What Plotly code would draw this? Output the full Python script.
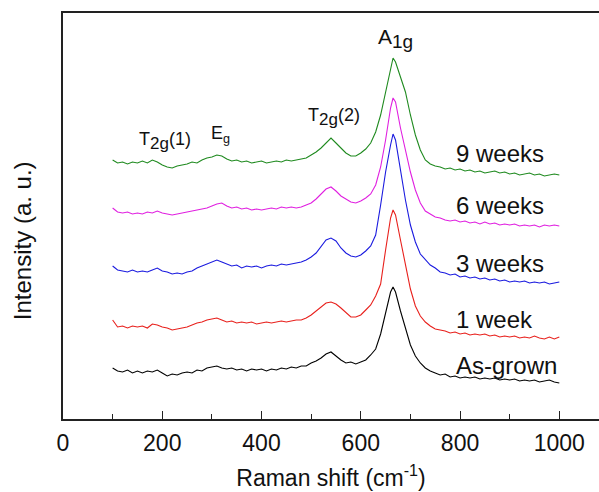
import numpy as np
import plotly.graph_objects as go

# Raman shift grid (cm^-1): 10 cm^-1 steps with an extra point at the A1g maximum
shift = np.concatenate([np.arange(100, 661, 10), [665], np.arange(670, 1001, 10)])

# Stacked Raman intensities (a.u., offset per sample)
as_grown = [51, 48, 47, 49, 46, 48, 46, 48, 47, 49, 46, 43, 45, 44, 46, 47, 46, 49, 48, 51,
            52, 53, 51, 50, 51, 49, 50, 48, 50, 49, 50, 48, 50, 49, 51, 50, 52, 51, 53, 53,
            56, 58, 61, 65, 67, 63, 59, 56, 57, 55, 57, 59, 64, 70, 85, 106, 127, 132,
            127, 108, 90, 74, 63, 56, 51, 48, 46, 44, 45, 42, 43, 41, 42, 41, 42, 40, 41,
            40, 41, 39, 40, 39, 40, 38, 39, 38, 39, 37, 38, 39, 37, 36]
week1 = [99, 92, 93, 91, 93, 92, 93, 91, 95, 94, 92, 91, 89, 90, 91, 92, 94, 96, 97, 99,
         100, 101, 99, 97, 98, 96, 97, 96, 97, 95, 96, 97, 96, 97, 98, 97, 98, 99, 99, 101,
         104, 108, 112, 116, 117, 115, 111, 106, 102, 102, 104, 109, 114, 123, 135, 169, 201, 209,
         204, 179, 154, 130, 113, 103, 97, 93, 90, 89, 88, 86, 87, 85, 86, 84, 85, 84, 85,
         83, 84, 82, 83, 82, 83, 81, 82, 81, 83, 81, 80, 82, 80, 82]
week3 = [153, 149, 148, 147, 149, 147, 148, 147, 149, 151, 148, 147, 145, 146, 145, 147, 148, 151, 153, 155,
         157, 159, 157, 155, 153, 154, 151, 153, 152, 153, 151, 153, 154, 153, 155, 154, 155, 156, 157, 159,
         162, 166, 173, 179, 181, 178, 171, 166, 163, 162, 164, 168, 173, 184, 214, 247, 274, 285,
         279, 249, 219, 194, 177, 165, 159, 154, 151, 147, 146, 144, 145, 142, 143, 141, 142, 140, 141,
         139, 140, 138, 139, 137, 138, 137, 138, 136, 137, 136, 137, 135, 136, 137]
week6 = [211, 207, 206, 207, 205, 206, 205, 207, 206, 208, 206, 205, 204, 205, 206, 207, 208, 209, 210, 211,
         213, 215, 216, 213, 211, 212, 210, 211, 209, 210, 209, 210, 211, 210, 212, 211, 212, 211, 212, 214,
         216, 220, 225, 230, 232, 228, 223, 220, 217, 216, 218, 221, 225, 234, 252, 279, 311, 321,
         317, 291, 269, 247, 229, 216, 208, 205, 202, 201, 199, 198, 199, 197, 198, 196, 197, 195, 197,
         195, 196, 194, 195, 194, 195, 193, 194, 193, 194, 192, 194, 193, 194, 193]
week9 = [259, 256, 257, 255, 257, 256, 258, 256, 259, 257, 254, 252, 251, 253, 254, 255, 257, 256, 259, 261,
         262, 264, 263, 260, 258, 259, 257, 258, 256, 257, 258, 256, 257, 258, 257, 259, 258, 259, 260, 261,
         264, 267, 271, 276, 281, 276, 271, 266, 263, 263, 266, 270, 276, 287, 304, 327, 352, 361,
         357, 341, 327, 304, 284, 269, 259, 255, 253, 252, 250, 251, 249, 250, 248, 249, 247, 248, 246,
         247, 248, 246, 247, 245, 246, 244, 245, 246, 244, 245, 243, 244, 245, 244]

series = [
    ("As-grown", as_grown, "#000000"),
    ("1 week", week1, "#e8201c"),
    ("3 weeks", week3, "#1a1adf"),
    ("6 weeks", week6, "#e020e0"),
    ("9 weeks", week9, "#1f8a1f"),
]

# Sample label positions (left edge in cm^-1, vertical centre in a.u.)
label_x = 788
label_y = [54, 100, 156, 214, 266]

# Raman mode labels
mode_text = [
    "A<sub><span style='font-size:19px'>1g</span></sub>",
    "T<sub><span style='font-size:17px'>2g</span></sub>(2)",
    "T<sub><span style='font-size:17px'>2g</span></sub>(1)",
    "E<sub>g</sub>",
]
mode_x = [669, 546, 206, 318]
mode_y = [381, 302, 278, 285]
mode_size = [21, 18, 18, 18]

FONT = "Arial, 'Liberation Sans', sans-serif"

fig = go.Figure()
for name, vals, color in series:
    fig.add_trace(go.Scatter(x=shift, y=vals, mode="lines", name=name,
                             line=dict(color=color, width=1.1), showlegend=False))

for (name, _, _), ly in zip(series, label_y):
    fig.add_annotation(x=label_x, y=ly, text=name, showarrow=False, xanchor="left",
                       yanchor="middle", font=dict(size=24, color="#111", family=FONT))

for t, mx, my, ms in zip(mode_text, mode_x, mode_y, mode_size):
    fig.add_annotation(x=mx, y=my, text=t, showarrow=False, xanchor="center",
                       yanchor="middle", font=dict(size=ms, color="#111", family=FONT))

fig.update_layout(
    width=599, height=492,
    margin=dict(l=63, r=0, t=13, b=73),
    paper_bgcolor="white", plot_bgcolor="white",
    font=dict(family=FONT, color="#111"),
    xaxis=dict(
        range=[0, 1080], tickmode="linear", tick0=0, dtick=200,
        ticks="inside", ticklen=8, tickwidth=1.3, tickcolor="#222",
        minor=dict(dtick=100, ticks="inside", ticklen=5, tickwidth=1.3, tickcolor="#222"),
        showline=True, linecolor="#222", linewidth=1.6, mirror=True,
        showgrid=False, zeroline=False,
        tickfont=dict(size=23, color="#111", family=FONT),
        ticklabelstandoff=3,
        title=dict(text="Raman shift (cm<sup>-1</sup>)", font=dict(size=23, color="#111", family=FONT),
                   standoff=14),
    ),
    yaxis=dict(
        range=[0, 406], showticklabels=False, ticks="",
        showline=True, linecolor="#222", linewidth=1.6,
        showgrid=False, zeroline=False,
    ),
)

fig.add_annotation(xref="paper", yref="paper", x=-0.075, y=0.44, text="Intensity (a. u.)",
                   textangle=-90, showarrow=False, xanchor="center", yanchor="middle",
                   font=dict(size=24, color="#111", family=FONT))

fig.write_html("out.html")
